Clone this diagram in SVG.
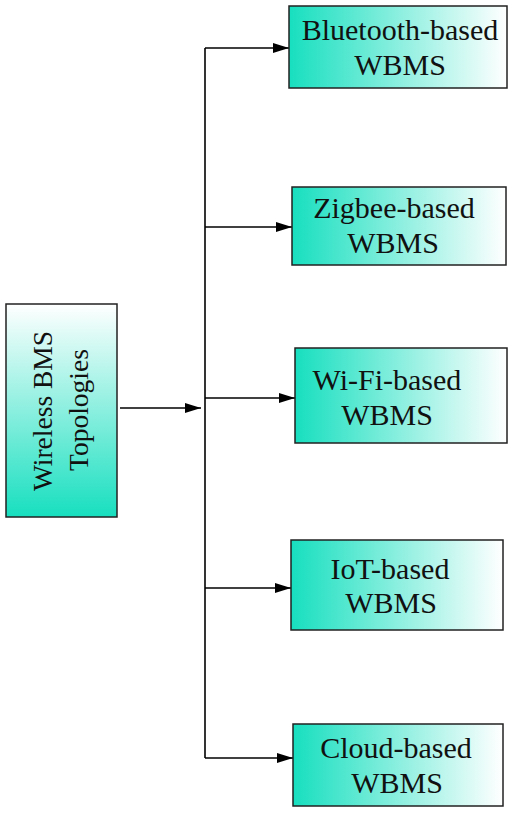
<svg xmlns="http://www.w3.org/2000/svg" width="515" height="813" viewBox="0 0 515 813">
<defs>
<linearGradient id="gh" x1="0" y1="0" x2="1" y2="0">
<stop offset="0" stop-color="#17dfbf"/>
<stop offset="1" stop-color="#ffffff"/>
</linearGradient>
<linearGradient id="gv" x1="0" y1="0" x2="0" y2="1">
<stop offset="0" stop-color="#ffffff"/>
<stop offset="1" stop-color="#17dfbf"/>
</linearGradient>
<marker id="ah" markerWidth="16" markerHeight="10" refX="16" refY="5" orient="auto" markerUnits="userSpaceOnUse">
<path d="M0,0 L16,5 L0,10 Z" fill="#000"/>
</marker>
</defs>
<style>
.box{stroke:#222;stroke-width:1.5}
.t{font-family:"Liberation Serif","Times New Roman",serif;font-size:30px;fill:#111;text-anchor:middle}
.tl{font-size:27.5px}
.c{stroke:#000;stroke-width:1.6;fill:none}
</style>
<rect width="515" height="813" fill="#fff"/>
<g id="connectors">
<line class="c" x1="120" y1="408" x2="201" y2="408" marker-end="url(#ah)"/>
<path class="c" d="M205,48 L205,758"/>
<line class="c" x1="205" y1="48" x2="289" y2="48" marker-end="url(#ah)"/>
<line class="c" x1="205" y1="227" x2="292" y2="227" marker-end="url(#ah)"/>
<line class="c" x1="205" y1="398" x2="295" y2="398" marker-end="url(#ah)"/>
<line class="c" x1="205" y1="588" x2="291" y2="588" marker-end="url(#ah)"/>
<line class="c" x1="205" y1="758" x2="293" y2="758" marker-end="url(#ah)"/>
</g>
<g id="root">
<rect class="box" x="6" y="304" width="111" height="213" fill="url(#gv)"/>
<text class="t tl" transform="translate(52,411) rotate(-90)">Wireless BMS</text>
<text class="t tl" transform="translate(88,410) rotate(-90)">Topologies</text>
</g>
<g id="bluetooth">
<rect class="box" x="289" y="6" width="218" height="82" fill="url(#gh)"/>
<text class="t" x="400" y="40">Bluetooth-based</text>
<text class="t" x="400" y="75">WBMS</text>
</g>
<g id="zigbee">
<rect class="box" x="292" y="187" width="214" height="78" fill="url(#gh)"/>
<text class="t" x="394" y="218">Zigbee-based</text>
<text class="t" x="393" y="253">WBMS</text>
</g>
<g id="wifi">
<rect class="box" x="295" y="348" width="212" height="95" fill="url(#gh)"/>
<text class="t" x="387" y="390">Wi-Fi-based</text>
<text class="t" x="387" y="425">WBMS</text>
</g>
<g id="iot">
<rect class="box" x="291" y="540" width="212" height="90" fill="url(#gh)"/>
<text class="t" x="390" y="579">IoT-based</text>
<text class="t" x="391" y="613">WBMS</text>
</g>
<g id="cloud">
<rect class="box" x="293" y="724" width="210" height="82" fill="url(#gh)"/>
<text class="t" x="396" y="758">Cloud-based</text>
<text class="t" x="397" y="793">WBMS</text>
</g>
</svg>
